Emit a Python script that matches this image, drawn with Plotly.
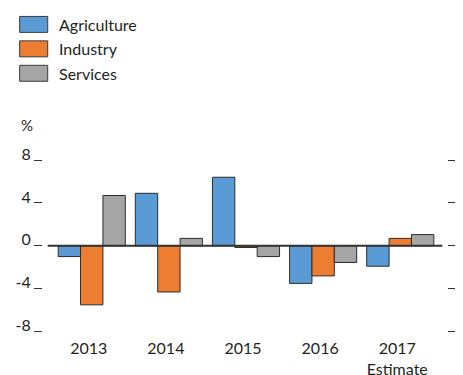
import plotly.graph_objects as go

categories = ["2013", "2014", "2015", "2016", "2017"]
x_tick_labels = ["2013", "2014", "2015", "2016", "2017<br>Estimate"]
agriculture = [-1.0, 4.9, 6.4, -3.5, -1.9]
industry = [-5.5, -4.3, -0.15, -2.8, 0.7]
services = [4.7, 0.7, -1.0, -1.55, 1.05]
y_tick_vals = [-8, -4, 0, 4, 8]
y_tick_labels = ["-8", "-4", "0", "4", "8"]

series = [
    ("Agriculture", agriculture, "#5B9BD5"),
    ("Industry", industry, "#ED7D31"),
    ("Services", services, "#A5A5A5"),
]

# page body has an 8px default margin; the figure is sized to fit the window
OFF = 8
W, H = 463 - OFF, 375 - OFF
L, R, T, B = 43.3 - OFF, 16.3, 143.9 - OFF, 37.6
FONT = "Lato"
TXT = "#231f20"

def px_to_paper(px, py):
    px -= OFF
    py -= OFF
    return (px - L) / (W - L - R), (H - B - py) / (H - T - B)

fig = go.Figure()
for name, vals, color in series:
    fig.add_trace(go.Bar(
        x=categories, y=vals, name=name,
        marker=dict(color=color, line=dict(color="#2b2b2b", width=1)),
        showlegend=False,
    ))

shapes = []
annotations = []
# manual legend
for i, (name, vals, color) in enumerate(series):
    top = 16 + i * 24.5
    x0, y1 = px_to_paper(20, top)
    x1, y0 = px_to_paper(48, top + 16)
    shapes.append(dict(type="rect", xref="paper", yref="paper", x0=x0, x1=x1, y0=y0, y1=y1,
                       fillcolor=color, line=dict(color="#3a3a3a", width=1)))
    tx, ty = px_to_paper(57, top + 8)
    annotations.append(dict(text=name, xref="paper", yref="paper", x=tx, y=ty,
                            xanchor="left", yanchor="middle", showarrow=False,
                            font=dict(family=FONT, size=16, color=TXT)))

# zero line
shapes.append(dict(type="line", xref="x", yref="y", x0=-0.571, x1=4.545, y0=0, y1=0,
                   line=dict(color="#333333", width=2), layer="above"))

# % label
px_, py_ = px_to_paper(19, 125)
annotations.append(dict(text="%", xref="paper", yref="paper", x=px_, y=py_,
                        xanchor="left", yanchor="middle", showarrow=False,
                        font=dict(family=FONT, size=15, color=TXT)))

fig.update_layout(
    width=W, height=H,
    margin=dict(l=L, r=R, t=T, b=B, autoexpand=False),
    paper_bgcolor="white", plot_bgcolor="white",
    barmode="group", bargap=0.13, bargroupgap=0,
    font=dict(family=FONT, size=16, color=TXT),
    shapes=shapes, annotations=annotations,
    showlegend=False,
    xaxis=dict(
        range=[-0.632, 4.606], showgrid=False, zeroline=False, showline=False,
        ticks="", tickvals=categories, ticktext=x_tick_labels,
        tickfont=dict(family=FONT, size=16, color=TXT),
        ticklabelshift=-3,
    ),
    yaxis=dict(
        range=[-8.5, 9.5], showgrid=False, zeroline=False,
        showline=True, linecolor="rgba(0,0,0,0)", mirror="ticks",
        ticks="outside", ticklen=8, tickwidth=1.2, tickcolor="#333333",
        tickvals=y_tick_vals, ticktext=y_tick_labels,
        tickfont=dict(family=FONT, size=16, color=TXT),
        ticklabelshift=-6, ticklabelstandoff=0,
    ),
)

fig.write_html("out.html")
